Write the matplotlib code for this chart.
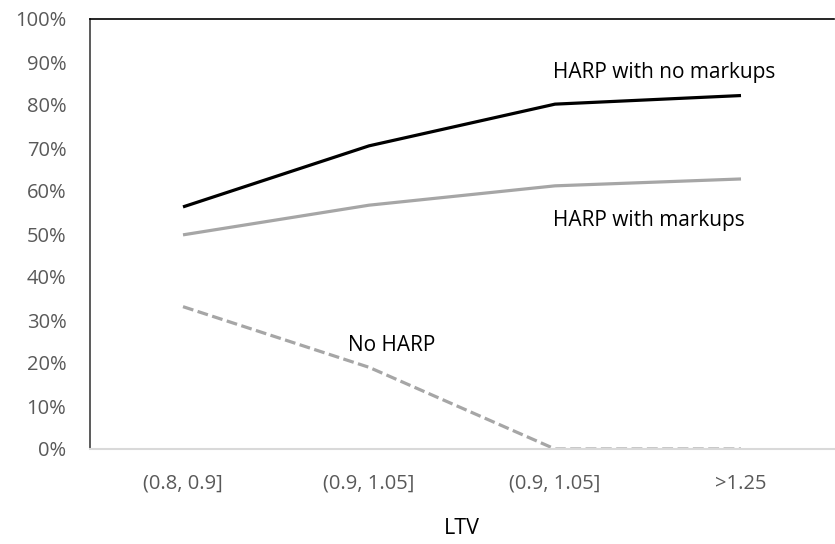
import matplotlib
matplotlib.use('Agg')
from matplotlib import pyplot as plt
from matplotlib.ticker import PercentFormatter

# LTV buckets and share of loans for each group
categories = ['(0.8, 0.9]', '(0.9, 1.05]', '(0.9, 1.05]', '>1.25']
harp_no_markups = [56.3, 70.5, 80.2, 82.2]
harp_markups = [49.8, 56.7, 61.2, 62.8]
no_harp = [33.1, 19.0, 0.0, 0.0]

plt.rcParams['font.family'] = ['Open Sans', 'DejaVu Sans']

fig = plt.figure(figsize=(8.35, 5.44), dpi=100)
ax = fig.add_axes([90 / 835, 95 / 544, 744 / 835, 430 / 544])

x = range(len(categories))
ax.plot(x, harp_no_markups, color='black', lw=2.3, solid_capstyle='butt')
ax.plot(x, harp_markups, color='#a6a6a6', lw=2.3, solid_capstyle='butt')
ax.plot(x, no_harp, color='#a6a6a6', lw=2.3, ls=(0, (3.4, 1.4)))

# Series labels placed beside the lines
ax.text(1.99, 86.3, 'HARP with no markups', ha='left', va='baseline', fontsize=15)
ax.text(1.99, 51.9, 'HARP with markups', ha='left', va='baseline', fontsize=15)
ax.text(0.887, 22.8, 'No HARP', ha='left', va='baseline', fontsize=15)

ax.set_xlim(-0.5, 3.5)
ax.set_ylim(0, 100)
ax.set_xticks(list(x))
ax.set_xticklabels(categories)
ax.set_yticks(range(0, 101, 10))
ax.yaxis.set_major_formatter(PercentFormatter(decimals=0))
ax.tick_params(length=0, labelsize=14.5, labelcolor='#595959')
ax.tick_params(axis='x', pad=18)
ax.tick_params(axis='y', pad=17)
ax.set_xlabel('LTV', fontsize=15.5, labelpad=17)

ax.spines['right'].set_visible(False)
ax.spines['top'].set_color('black')
ax.spines['top'].set_linewidth(1.2)
ax.spines['left'].set_color('#404040')
ax.spines['left'].set_linewidth(1.2)
ax.spines['bottom'].set_color('#d9d9d9')
ax.spines['bottom'].set_linewidth(1.5)

fig.savefig('out.png', dpi=100)
